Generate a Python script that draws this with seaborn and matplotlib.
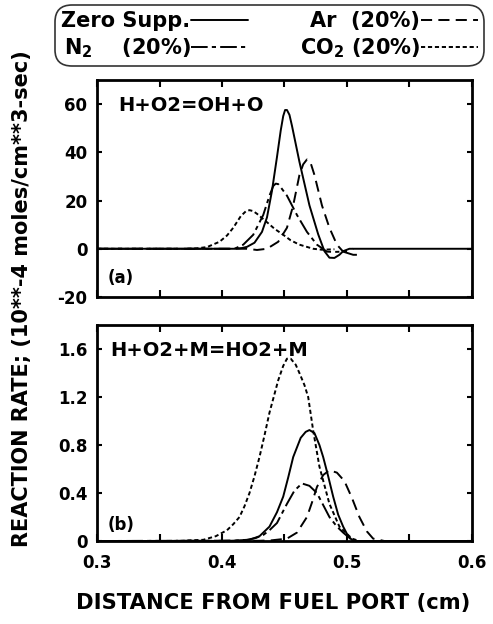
import numpy as np
import pandas as pd
import matplotlib
matplotlib.use("Agg")
import matplotlib.pyplot as plt
from matplotlib.ticker import MultipleLocator
import seaborn as sns

sns.set_style("ticks")
plt.rcParams['font.family'] = ['DejaVu Sans']
plt.rcParams['font.weight'] = 'bold'
plt.rcParams['mathtext.fontset'] = 'custom'
plt.rcParams['mathtext.default'] = 'bf'
plt.rcParams['mathtext.bf'] = 'DejaVu Sans:bold'
plt.rcParams['mathtext.rm'] = 'DejaVu Sans:bold'
plt.rcParams['lines.scale_dashes'] = False
plt.rcParams['axes.unicode_minus'] = False
for key in ['axes.edgecolor', 'text.color', 'xtick.color', 'ytick.color', 'axes.labelcolor']:
    plt.rcParams[key] = 'black'

SERIES = ["Zero Supp.", r"N$_2$    (20%)", "Ar  (20%)", r"CO$_2$ (20%)"]

# panel (a): H+O2=OH+O
a_zero_x = [0.30, 0.41, 0.416, 0.42, 0.426, 0.432, 0.436, 0.440, 0.444, 0.447, 0.449, 0.4505,
            0.452, 0.454, 0.456, 0.462, 0.466, 0.470, 0.477, 0.482, 0.486, 0.490, 0.494, 0.497,
            0.502, 0.60]
a_zero_y = [0, 0, 0.3, 0.8, 2.5, 7, 13, 24, 38, 49, 55, 57.5, 57.5, 55.5, 51, 36, 27, 18, 6,
            -1, -3.7, -3.8, -2.5, -1, 0, 0]
a_n2_x = [0.30, 0.41, 0.417, 0.425, 0.433, 0.438, 0.441, 0.443, 0.445, 0.447, 0.452, 0.460,
          0.468, 0.476, 0.484, 0.490, 0.497, 0.505, 0.508]
a_n2_y = [0, 0, 1.7, 5.8, 14, 22, 26, 27, 26.8, 25.5, 22, 14, 7, 1.7, -1.2, -1.3, -1.2, -2.5,
          -2.5]
a_ar_x = [0.30, 0.42, 0.428, 0.436, 0.445, 0.452, 0.457, 0.462, 0.465, 0.468, 0.471, 0.474,
          0.480, 0.486, 0.492, 0.497, 0.501, 0.505]
a_ar_y = [0, 0, -0.5, 0, 2.9, 8.7, 18, 30.6, 35, 37, 35.5, 30.6, 18, 8.7, 1.7, -1.2, -0.8, 0]
a_co2_x = [0.30, 0.37, 0.38, 0.388, 0.398, 0.404, 0.409, 0.415, 0.419, 0.422, 0.425, 0.428,
           0.436, 0.442, 0.449, 0.455, 0.462, 0.473, 0.48, 0.49]
a_co2_y = [0, 0, 0.2, 0.7, 2.9, 5.5, 8.7, 13.5, 15.5, 16, 15.6, 14.5, 11, 8.3, 5.8, 3.5,
           1.7, 0, -0.4, -0.2]

# panel (b): H+O2+M=HO2+M
b_zero_x = [0.30, 0.40, 0.41, 0.422, 0.430, 0.438, 0.444, 0.449, 0.453, 0.457, 0.463, 0.467,
            0.470, 0.474, 0.478, 0.481, 0.485, 0.489, 0.493, 0.497, 0.501, 0.505, 0.60]
b_zero_y = [0, 0, 0.003, 0.01, 0.04, 0.12, 0.24, 0.37, 0.53, 0.7, 0.86, 0.91, 0.925, 0.9,
            0.8, 0.7, 0.54, 0.37, 0.22, 0.12, 0.04, 0, 0]
b_n2_x = [0.30, 0.41, 0.42, 0.427, 0.433, 0.438, 0.444, 0.452, 0.458, 0.464, 0.470, 0.476,
          0.481, 0.486, 0.492, 0.497, 0.505, 0.51]
b_n2_y = [0, 0.003, 0.01, 0.025, 0.05, 0.09, 0.15, 0.31, 0.42, 0.48, 0.46, 0.4, 0.3, 0.2,
          0.12, 0.07, 0, 0]
b_ar_x = [0.30, 0.43, 0.44, 0.452, 0.46, 0.468, 0.472, 0.476, 0.481, 0.486, 0.492, 0.498,
          0.504, 0.51, 0.516, 0.521, 0.53]
b_ar_y = [0, 0.002, 0.006, 0.02, 0.07, 0.2, 0.32, 0.45, 0.55, 0.59, 0.57, 0.5, 0.36, 0.2,
          0.08, 0.02, 0]
b_co2_x = [0.30, 0.36, 0.385, 0.395, 0.404, 0.409, 0.414, 0.418, 0.422, 0.426, 0.43, 0.434,
           0.438, 0.445, 0.449, 0.452, 0.455, 0.459, 0.462, 0.466, 0.469, 0.473, 0.478,
           0.486, 0.494, 0.504, 0.51]
b_co2_y = [0, 0, 0.01, 0.04, 0.09, 0.14, 0.2, 0.29, 0.4, 0.54, 0.7, 0.88, 1.07, 1.34, 1.46,
           1.52, 1.52, 1.47, 1.4, 1.3, 1.2, 0.92, 0.62, 0.31, 0.12, 0.02, 0]

a_yticks = [-20, 0, 20, 40, 60]
b_yticks = [0, 0.4, 0.8, 1.2, 1.6]
b_yticklabels = ["0", "0.4", "0.8", "1.2", "1.6"]
xticks = [0.3, 0.4, 0.5, 0.6]
xticklabels = ["0.3", "0.4", "0.5", "0.6"]


def make_df(xs, ys):
    frames = []
    for name, x, y in zip(SERIES, xs, ys):
        frames.append(pd.DataFrame({'x': x, 'y': y, 'case': name}))
    return pd.concat(frames, ignore_index=True)


df_a = make_df([a_zero_x, a_n2_x, a_ar_x, a_co2_x], [a_zero_y, a_n2_y, a_ar_y, a_co2_y])
df_b = make_df([b_zero_x, b_n2_x, b_ar_x, b_co2_x], [b_zero_y, b_n2_y, b_ar_y, b_co2_y])

dashes = {SERIES[0]: "", SERIES[1]: (12, 3, 3, 3), SERIES[2]: (8, 4.5), SERIES[3]: (3, 2)}
palette = {s: 'black' for s in SERIES}

fig = plt.figure(figsize=(4.93, 6.24), dpi=100)
ax_a = fig.add_axes([0.197, 0.524, 0.760, 0.348])
ax_b = fig.add_axes([0.197, 0.133, 0.760, 0.346])

for ax, d in [(ax_a, df_a), (ax_b, df_b)]:
    sns.lineplot(data=d, x='x', y='y', hue='case', style='case', palette=palette,
                 dashes=dashes, estimator=None, sort=False, linewidth=1.4, ax=ax, legend=False)
    ax.set_xlim(0.3, 0.6)
    ax.set_xticks(xticks)
    ax.xaxis.set_minor_locator(MultipleLocator(0.05))
    ax.tick_params(axis='x', which='both', direction='in', length=5, width=1.5, top=True,
                   labelsize=12, pad=9)
    ax.tick_params(axis='y', which='both', direction='in', length=3.6, width=1.5, right=True,
                   labelsize=12, pad=7)
    for sp in ax.spines.values():
        sp.set_linewidth(2)
    ax.set_xlabel('')
    ax.set_ylabel('')

ax_a.set_ylim(-20, 70)
ax_a.set_yticks(a_yticks)
ax_a.set_yticklabels([str(v) for v in a_yticks])
ax_a.tick_params(labelbottom=False)

ax_b.set_ylim(0, 1.8)
ax_b.set_yticks(b_yticks)
ax_b.set_yticklabels(b_yticklabels)
ax_b.set_xticklabels(xticklabels)

ax_a.text(0.056, 0.925, "H+O2=OH+O", transform=ax_a.transAxes, fontsize=14, va='top')
ax_a.text(0.029, 0.088, "(a)", transform=ax_a.transAxes, fontsize=12, va='center')
ax_b.text(0.035, 0.925, "H+O2+M=HO2+M", transform=ax_b.transAxes, fontsize=14, va='top')
ax_b.text(0.027, 0.074, "(b)", transform=ax_b.transAxes, fontsize=12, va='center')

fig.text(0.554, 0.034, "DISTANCE FROM FUEL PORT (cm)", ha='center', va='center', fontsize=15.2)
fig.text(0.045, 0.521, "REACTION RATE; (10**-4 moles/cm**3-sec)", ha='center', va='center',
         rotation=90, fontsize=15)

handles = ax_a.get_lines()[:4]
leg = fig.legend(handles, SERIES, ncol=2, markerfirst=False, loc='upper left',
                 bbox_to_anchor=(0.1116, 0.992), fontsize=15, frameon=True, fancybox=True,
                 handlelength=2.7, handletextpad=0.05, columnspacing=2.5, labelspacing=0.25,
                 borderpad=0.3, borderaxespad=0)
frame = leg.get_frame()
frame.set_edgecolor('black')
frame.set_linewidth(1.2)
frame.set_boxstyle('round,pad=0,rounding_size=0.8')

fig.savefig("out.png", dpi=100)
